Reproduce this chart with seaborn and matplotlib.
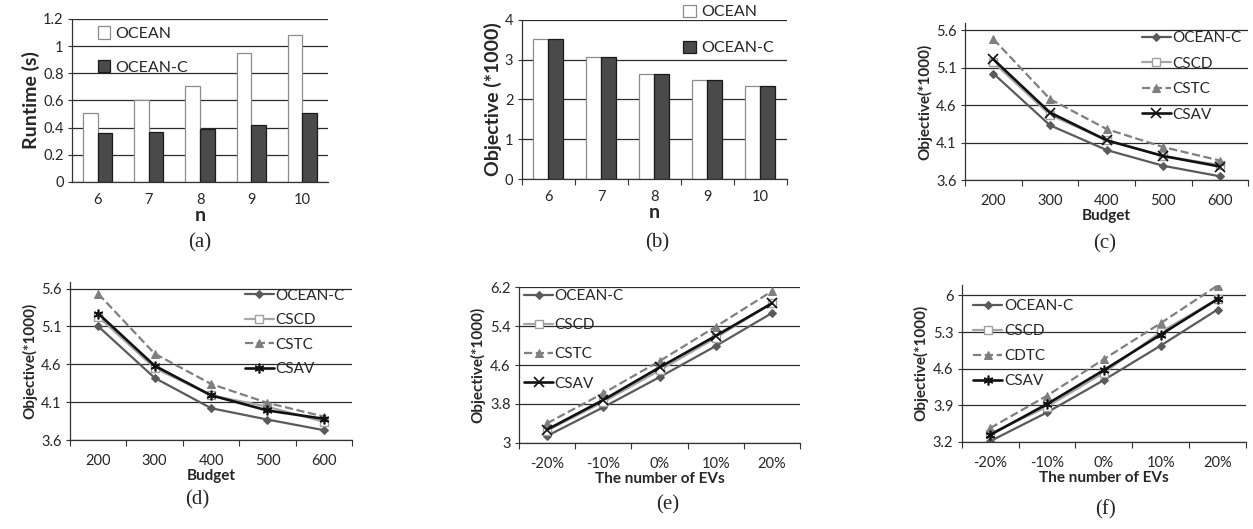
import numpy as np
import pandas as pd
import seaborn as sns
import matplotlib.pyplot as plt
from matplotlib.ticker import FuncFormatter, FixedLocator

# ---- data ----
n_values = ["6", "7", "8", "9", "10"]
runtime_ocean = [0.51, 0.60, 0.71, 0.95, 1.08]
runtime_ocean_c = [0.36, 0.37, 0.39, 0.42, 0.51]
objective_ocean = [3.52, 3.07, 2.65, 2.50, 2.35]
objective_ocean_c = [3.52, 3.07, 2.65, 2.50, 2.35]

budgets = ["200", "300", "400", "500", "600"]
c_ocean_c = [5.02, 4.33, 4.00, 3.79, 3.65]
c_cscd = [5.17, 4.47, 4.13, 3.92, 3.80]
c_cstc = [5.48, 4.68, 4.28, 4.04, 3.86]
c_csav = [5.21, 4.50, 4.13, 3.92, 3.78]

d_ocean_c = [5.10, 4.42, 4.02, 3.87, 3.73]
d_cscd = [5.23, 4.55, 4.19, 4.04, 3.84]
d_cstc = [5.53, 4.74, 4.34, 4.09, 3.91]
d_csav = [5.27, 4.58, 4.19, 3.99, 3.88]

ev_changes = ["-20%", "-10%", "0%", "10%", "20%"]
e_ocean_c = [3.14, 3.73, 4.35, 4.99, 5.67]
e_cscd = [3.25, 3.84, 4.49, 5.16, 5.87]
e_cstc = [3.40, 4.02, 4.68, 5.39, 6.12]
e_csav = [3.27, 3.88, 4.55, 5.20, 5.87]

f_ocean_c = [3.21, 3.76, 4.38, 5.04, 5.73]
f_cscd = [3.35, 3.87, 4.52, 5.30, 5.93]
f_cdtc = [3.46, 4.08, 4.78, 5.47, 6.19]
f_csav = [3.33, 3.92, 4.57, 5.25, 5.93]

yticks_a = [0, 0.2, 0.4, 0.6, 0.8, 1.0, 1.2]
yticks_b = [0, 1, 2, 3, 4]
yticks_cd = [3.6, 4.1, 4.6, 5.1, 5.6]
yticks_e = [3.0, 3.8, 4.6, 5.4, 6.2]
yticks_f = [3.2, 3.9, 4.6, 5.3, 6.0]

sns.set_style("ticks")
plt.rcParams["font.family"] = ["Lato", "DejaVu Sans"]

GRID = "#2b2b2b"
fmt = FuncFormatter(lambda v, _: f"{v:g}")

fig = plt.figure(figsize=(12.53, 5.29), dpi=100)


def style_axes(ax, yticks, ylim, minor_x=True, xpad=10):
    ax.set_ylim(*ylim)
    ax.set_yticks(yticks)
    ax.yaxis.set_major_formatter(fmt)
    ax.grid(axis="y", color=GRID, linewidth=0.9)
    ax.set_axisbelow(True)
    for s in ["top", "right"]:
        ax.spines[s].set_visible(False)
    for s in ["left", "bottom"]:
        ax.spines[s].set_color("#333333")
        ax.spines[s].set_linewidth(0.9)
    ax.set_xlim(-0.5, 4.5)
    ax.tick_params(axis="x", length=0, pad=xpad, labelsize=10.5)
    ax.tick_params(axis="y", length=3, width=0.8, color="#333333", pad=3, labelsize=10.5)
    if minor_x:
        ax.xaxis.set_minor_locator(FixedLocator([-0.5, 0.5, 1.5, 2.5, 3.5, 4.5]))
        ax.tick_params(axis="x", which="minor", length=4, width=0.8, color="#333333")


def bar_panel(rect, vals_a, vals_b, ylabel, yticks, ylim, leg_anchor, leg_space, minor_x):
    ax = fig.add_axes(rect)
    df = pd.DataFrame({
        "n": n_values * 2,
        "value": list(vals_a) + list(vals_b),
        "method": ["OCEAN"] * 5 + ["OCEAN-C"] * 5,
    })
    sns.barplot(data=df, x="n", y="value", hue="method", ax=ax,
                palette={"OCEAN": "white", "OCEAN-C": "#4a4a4a"},
                width=0.57, saturation=1, errorbar=None)
    edges = ["#8c8c8c", "#1a1a1a"]
    for cont, ec in zip(ax.containers, edges):
        for bar in cont:
            bar.set_edgecolor(ec)
            bar.set_linewidth(0.9)
    style_axes(ax, yticks, ylim, minor_x, xpad=8)
    ax.set_xlabel("n", fontsize=14, fontweight="bold", labelpad=0)
    ax.set_ylabel(ylabel, fontsize=14, fontweight="bold", labelpad=2)
    h, l = ax.get_legend_handles_labels()
    leg = ax.legend(h, l, loc="upper left", bbox_to_anchor=leg_anchor, frameon=False,
                    fontsize=11.5, handlelength=0.8, handleheight=0.8, handletextpad=0.3,
                    labelspacing=leg_space, borderpad=0, borderaxespad=0)
    for patch, ec in zip(leg.get_patches(), edges):
        patch.set_edgecolor(ec)
        patch.set_linewidth(0.9)
    return ax


SERIES_STYLE = [
    dict(color="#5a5a5a", marker="D", markersize=4.5, linestyle="-", linewidth=1.6,
         markeredgecolor="#5a5a5a"),
    dict(color="#a6a6a6", marker="s", markersize=6, linestyle="-", linewidth=1.6,
         markerfacecolor="white", markeredgecolor="#a0a0a0", markeredgewidth=1.0),
    dict(color="#7f7f7f", marker="^", markersize=6, linestyle="--", linewidth=1.6,
         markeredgecolor="#7f7f7f"),
    dict(color="#111111", marker="x", markersize=6.5, linestyle="-", linewidth=1.9,
         markeredgecolor="#111111", markeredgewidth=1.2),
]


def line_panel(rect, xlabels, series, names, xlabel, yticks, ylim, leg_anchor,
               leg_space, star=False):
    ax = fig.add_axes(rect)
    for vals, name, st in zip(series, names, SERIES_STYLE):
        st = dict(st)
        if star and name == "CSAV":
            st["marker"] = (6, 2, 0)
            st["markersize"] = 7
        df = pd.DataFrame({"pos": range(len(xlabels)), "value": vals})
        sns.lineplot(data=df, x="pos", y="value", ax=ax, label=name,
                     errorbar=None, **st)
    style_axes(ax, yticks, ylim)
    ax.set_xticks(range(len(xlabels)))
    ax.set_xticklabels(xlabels)
    ax.set_xlabel(xlabel, fontsize=11, fontweight="bold", labelpad=1)
    ax.set_ylabel("Objective(*1000)", fontsize=11, fontweight="bold", labelpad=3)
    h, l = ax.get_legend_handles_labels()
    ax.legend(h, l, loc="upper left", bbox_to_anchor=leg_anchor, frameon=False,
              fontsize=11, handlelength=1.9, handletextpad=0.1,
              labelspacing=leg_space, borderpad=0, borderaxespad=0)
    return ax


# (a) runtime
bar_panel([0.0575, 0.656, 0.2043, 0.3081], runtime_ocean, runtime_ocean_c,
          "Runtime (s)", yticks_a, (0, 1.2), (0.10, 0.955), 1.2, False)
# (b) objective
bar_panel([0.4164, 0.6611, 0.2115, 0.3017], objective_ocean, objective_ocean_c,
          "Objective (*1000)", yticks_b, (0, 4), (0.61, 1.095), 1.35, True)

names = ["OCEAN-C", "CSCD", "CSTC", "CSAV"]
# (c)
line_panel([0.7702, 0.6597, 0.2259, 0.2962], budgets,
           [c_ocean_c, c_cscd, c_cstc, c_csav], names, "Budget",
           yticks_cd, (3.6, 5.69), (0.624, 0.95), 0.75)
# (d)
line_panel([0.0559, 0.1682, 0.2251, 0.2993], budgets,
           [d_ocean_c, d_cscd, d_cstc, d_csav], names, "Budget",
           yticks_cd, (3.6, 5.69), (0.62, 0.955), 0.68, star=True)
# (e)
line_panel([0.4142, 0.1631, 0.2243, 0.2938], ev_changes,
           [e_ocean_c, e_cscd, e_cstc, e_csav], names, "The number of EVs",
           yticks_e, (3.0, 6.2), (0.018, 0.99), 1.0)
# (f)
line_panel([0.7675, 0.165, 0.2269, 0.2962], ev_changes,
           [f_ocean_c, f_cscd, f_cdtc, f_csav], ["OCEAN-C", "CSCD", "CDTC", "CSAV"],
           "The number of EVs", yticks_f, (3.2, 6.2), (0.041, 0.91), 0.72, star=True)

captions = [("(a)", 200, 243), ("(b)", 657, 243), ("(c)", 1105, 244),
            ("(d)", 197, 500), ("(e)", 668, 505), ("(f)", 1106, 510)]
for txt, px, py in captions:
    fig.text(px / 1253, 1 - py / 529, txt, ha="center", va="center",
             fontsize=15, family=["Liberation Serif", "DejaVu Serif"])

fig.savefig("out.png", dpi=100)
